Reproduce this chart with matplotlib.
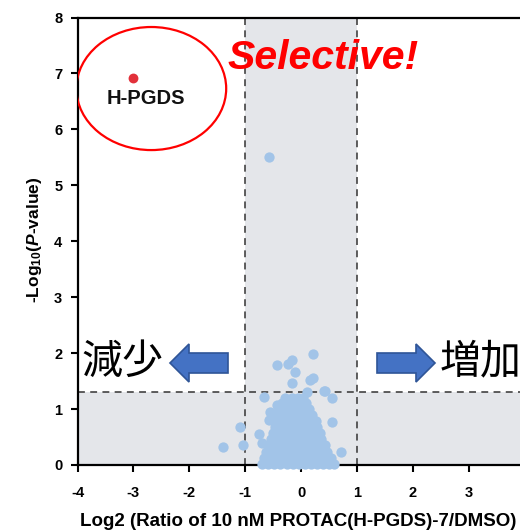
import matplotlib
matplotlib.use("Agg")
import matplotlib.pyplot as plt
from matplotlib.patches import Ellipse, Polygon

plt.rcParams['font.family'] = ['Liberation Sans', 'DejaVu Sans']
plt.rcParams['mathtext.fontset'] = 'custom'
plt.rcParams['mathtext.rm'] = 'Liberation Sans:bold'
plt.rcParams['mathtext.it'] = 'Liberation Sans:bold:italic'
plt.rcParams['mathtext.bf'] = 'Liberation Sans:bold'
plt.rcParams['axes.unicode_minus'] = False

# ---------------- data ----------------
# highlighted protein
hit_x = [-3.0]
hit_y = [6.92]
hit_label = "H-PGDS"

# scattered (non-dense) proteins
other_x = [-0.57, 0.21, -0.43, -0.23, -0.17, -0.11, -0.17, 0.16, 0.22, 0.41, 0.43, 0.55,
           -0.67, 0.10, 0.55, -1.10, -1.39, -1.04, -0.75, -0.70, 0.71, -0.55, -0.58, -0.43]
other_y = [5.51, 1.99, 1.78, 1.81, 1.88, 1.67, 1.46, 1.52, 1.55, 1.32, 1.32, 1.20,
           1.21, 1.31, 0.77, 0.68, 0.32, 0.36, 0.55, 0.39, 0.23, 0.95, 0.80, 1.07]

# dense cloud of proteins near zero (rows of y, with x positions)
cloud_rows_y = [0.02, 0.13, 0.24, 0.35, 0.46, 0.57, 0.68, 0.79, 0.90, 1.01, 1.11, 1.20]
cloud_rows_x = [
    [-0.70, -0.59, -0.48, -0.37, -0.26, -0.15, -0.04, 0.07, 0.18, 0.29, 0.40, 0.50, 0.58],
    [-0.66, -0.55, -0.44, -0.33, -0.22, -0.11, 0.00, 0.11, 0.22, 0.33, 0.44, 0.54],
    [-0.62, -0.51, -0.40, -0.29, -0.18, -0.07, 0.04, 0.15, 0.26, 0.37, 0.47],
    [-0.58, -0.47, -0.36, -0.25, -0.14, -0.03, 0.08, 0.19, 0.30, 0.42],
    [-0.53, -0.42, -0.31, -0.20, -0.09, 0.02, 0.13, 0.24, 0.35],
    [-0.50, -0.39, -0.28, -0.17, -0.06, 0.05, 0.16, 0.27, 0.34],
    [-0.47, -0.36, -0.25, -0.14, -0.03, 0.08, 0.19, 0.29],
    [-0.45, -0.34, -0.23, -0.12, -0.01, 0.10, 0.21, 0.27],
    [-0.43, -0.32, -0.21, -0.10, 0.01, 0.12, 0.20],
    [-0.40, -0.29, -0.18, -0.07, 0.04, 0.15],
    [-0.35, -0.24, -0.13, -0.02, 0.08],
    [-0.28, -0.17, -0.06, 0.04],
]

fc_threshold = 1.0
p_threshold = 1.3
x_ticks = [-4, -3, -2, -1, 0, 1, 2, 3, 4]
y_ticks = [0, 1, 2, 3, 4, 5, 6, 7, 8]

# ---------------- figure ----------------
W, H = 520, 531
fig = plt.figure(figsize=(W / 100, H / 100), dpi=100)

def fx(px):
    return px / W

def fy(py):
    return 1 - py / H

ax = fig.add_axes([fx(77.5), fy(465), fx(524.7) - fx(77.5), fy(17.5) - fy(465)])
ax.set_xlim(-4, 4)
ax.set_ylim(0, 8)

band = '#e4e6ea'
ax.axvspan(-fc_threshold, fc_threshold, color=band, lw=0, zorder=0)
ax.axhspan(0, p_threshold, color=band, lw=0, zorder=0)
dash = dict(color='#333333', lw=1.1, ls=(0, (4.5, 3.5)), zorder=1)
ax.axvline(-fc_threshold, **dash)
ax.axvline(fc_threshold, **dash)
ax.axhline(p_threshold, **dash)

blue = '#a2c4e8'
cx, cy = [], []
for yv, xs in zip(cloud_rows_y, cloud_rows_x):
    for xv in xs:
        cx.append(xv)
        cy.append(yv)
ax.scatter(cx + other_x, cy + other_y, s=55, color=blue, lw=0, zorder=5, clip_on=False)
ax.scatter(hit_x, hit_y, s=50, color='#e2303a', lw=0, zorder=5)
ax.text(-2.78, 6.56, hit_label, ha='center', va='center', fontsize=14.5,
        fontweight='bold', color='#111111')
ax.add_patch(Ellipse((-2.68, 6.73), 2.68, 2.2, fill=False, ec='#ff0000', lw=1.6, zorder=6))

for s in ['left', 'bottom', 'top']:
    ax.spines[s].set_linewidth(1.6)
ax.spines['right'].set_visible(False)
ax.set_xticks(x_ticks)
ax.set_yticks(y_ticks)
ax.tick_params(direction='out', length=5, width=1.5, labelsize=10.5, pad=6)
for lab in ax.get_xticklabels() + ax.get_yticklabels():
    lab.set_fontweight('bold')
ax.tick_params(axis='x', pad=10)

# axis labels
fig.text(fx(35), fy(240), r'-Log$_{\mathrm{10}}$($\mathit{P}$-value)', rotation=90,
         ha='center', va='center', fontsize=12.5, fontweight='bold')
fig.text(fx(80), fy(521), 'Log2 (Ratio of 10 nM PROTAC(H-PGDS)-7/DMSO)',
         ha='left', va='center', fontsize=13.5, fontweight='bold')

# annotations
fig.text(fx(323), fy(58), 'Selective!', ha='center', va='center', fontsize=29.5,
         fontweight='bold', fontstyle='italic', color='#ff0000')
jp = ['Noto Sans CJK JP', 'DejaVu Sans']
fig.text(fx(81), fy(362), '減少', ha='left', va='center', fontsize=29.5, family=jp)
fig.text(fx(440), fy(362), '増加', ha='left', va='center', fontsize=29.5, family=jp)

def arrow(tip, tail, yc, body_h=20, head_h=38, head_l=19):
    d = 1 if tail > tip else -1
    base = tip + d * head_l
    pts = [(tip, yc), (base, yc - head_h / 2), (base, yc - body_h / 2),
           (tail, yc - body_h / 2), (tail, yc + body_h / 2), (base, yc + body_h / 2),
           (base, yc + head_h / 2)]
    pts = [(fx(a), fy(b)) for a, b in pts]
    fig.patches.append(Polygon(pts, closed=True, transform=fig.transFigure,
                               fc='#4472c4', ec='#2f5597', lw=1.2))

arrow(170, 228, 363)
arrow(435, 377, 363)

fig.savefig('out.png', dpi=100)
